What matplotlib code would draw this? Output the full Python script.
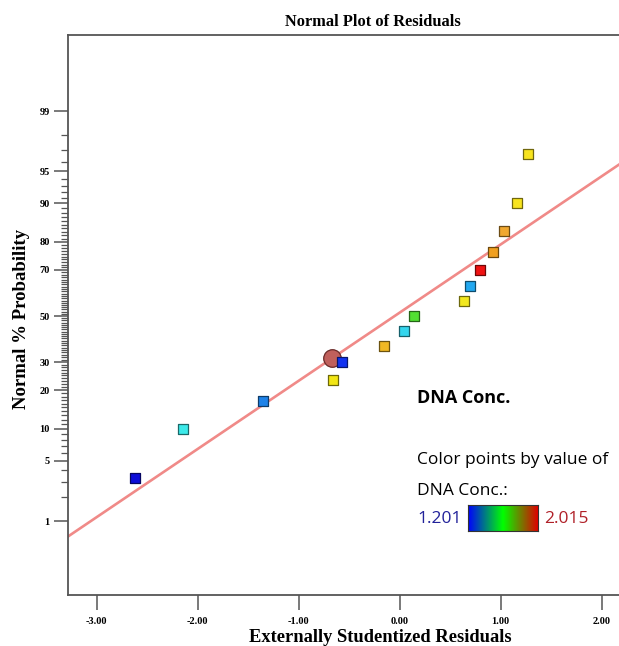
import numpy as np
import matplotlib
matplotlib.use("Agg")
import matplotlib.pyplot as plt
from matplotlib.colors import LinearSegmentedColormap
from statistics import NormalDist

# residuals (x) and normal % probability (y)
resid = [-2.62, -2.14, -1.35, -0.66, -0.57, -0.155, 0.046, 0.142,
         0.64, 0.70, 0.795, 0.927, 1.033, 1.158, 1.273]
prob = [3.3, 10.0, 16.7, 23.3, 30.0, 36.7, 43.3, 50.0,
        56.7, 63.3, 70.0, 76.7, 83.3, 90.0, 96.7]
point_colors = ["#0c0cd8", "#3ceaea", "#1e82e8", "#f2e614", "#1232f0",
                "#f0b824", "#34d6ee", "#52e032", "#f2e81e", "#22a8f0",
                "#f01212", "#f0a020", "#f0a830", "#f8e41e", "#f8e41e"]

# highlighted point (circle)
sel_resid = -0.673
sel_prob = 31.7

# fitted line in probit units: z = slope * x + intercept
fit_slope = 0.774
fit_intercept = 0.039

major_pct = [1, 5, 10, 20, 30, 50, 70, 80, 90, 95, 99]
x_ticks = [-3.0, -2.0, -1.0, 0.0, 1.0, 2.0]

cbar_low, cbar_high = "1.201", "2.015"

nd = NormalDist()
probit = lambda p: nd.inv_cdf(p / 100.0)

serif = "Liberation Serif"
sans = "Open Sans"

fig = plt.figure(figsize=(6.19, 6.46), dpi=100)
ax = fig.add_axes([68.3 / 619, 51 / 646, (619 - 68.3) / 619, 560 / 646])

# fit line
xl = np.array([-3.28, 2.171])
ax.plot(xl, fit_slope * xl + fit_intercept, color="#f08a88", lw=1.9, zorder=2)

# points
z = [probit(p) for p in prob]
edges = [tuple(0.45 * c for c in matplotlib.colors.to_rgb(col)) for col in point_colors]
ax.scatter(sel_resid, probit(sel_prob), s=160, marker="o", color="#c0605c",
           edgecolor="#6a2a28", linewidth=0.9, zorder=3)
ax.scatter(resid, z, s=52, marker="s", c=point_colors, edgecolors=edges,
           linewidths=0.9, zorder=4)

ax.set_xlim(-3.28, 2.171)
ax.set_ylim(-3.166, 3.19)

ax.set_xticks(x_ticks)
ax.set_xticklabels([f"{v:.2f}" for v in x_ticks])
ax.set_yticks([probit(p) for p in major_pct])
ax.set_yticklabels([str(p) for p in major_pct])
ax.set_yticks([probit(p) for p in range(1, 100)], minor=True)

for sp in ["left", "bottom", "top"]:
    ax.spines[sp].set_color("#555555")
    ax.spines[sp].set_linewidth(1.3)
ax.spines["right"].set_visible(False)

ax.tick_params(axis="x", which="major", length=11, width=1.1, color="#555555",
               pad=5, labelsize=7.5)
ax.tick_params(axis="y", which="major", length=10, width=1.1, color="#555555",
               pad=3.5, labelsize=7.5)
ax.tick_params(axis="y", which="minor", length=5, width=0.9, color="#555555")
for lab in ax.get_xticklabels() + ax.get_yticklabels():
    lab.set_fontfamily(serif)
    lab.set_fontweight("bold")

fig.text(373 / 619, 1 - 22 / 646, "Normal Plot of Residuals", ha="center", va="center",
         fontsize=11.8, fontweight="bold", family=serif)
fig.text(380 / 619, 1 - 637 / 646, "Externally Studentized Residuals", ha="center",
         va="center", fontsize=13.3, fontweight="bold", family=serif)
fig.text(22 / 619, 1 - 319 / 646, "Normal % Probability", ha="center", va="center",
         rotation=90, fontsize=13.5, fontweight="bold", family=serif)

# colour legend
fig.text(417 / 619, 1 - 398 / 646, "DNA Conc.", ha="left", va="center",
         fontsize=13, fontweight="bold", family=sans)
fig.text(417 / 619, 1 - 460 / 646, "Color points by value of", ha="left", va="center",
         fontsize=12.5, family=sans)
fig.text(417 / 619, 1 - 491 / 646, "DNA Conc.:", ha="left", va="center",
         fontsize=12.5, family=sans)
fig.text(417 / 619, 1 - 519 / 646, cbar_low, ha="left", va="center",
         fontsize=12.5, family=sans, color="#22229a")
fig.text(544 / 619, 1 - 519 / 646, cbar_high, ha="left", va="center",
         fontsize=12.5, family=sans, color="#b02028")

cmap = LinearSegmentedColormap.from_list("bgr", ["#0000ff", "#00ff00", "#e00000"])
cax = fig.add_axes([468 / 619, 1 - 531 / 646, 70 / 619, 26 / 646])
cax.imshow(np.linspace(0, 1, 256)[None, :], aspect="auto", cmap=cmap)
cax.set_xticks([])
cax.set_yticks([])
for sp in cax.spines.values():
    sp.set_color("#333333")
    sp.set_linewidth(0.8)

fig.savefig("out.png", dpi=100)
